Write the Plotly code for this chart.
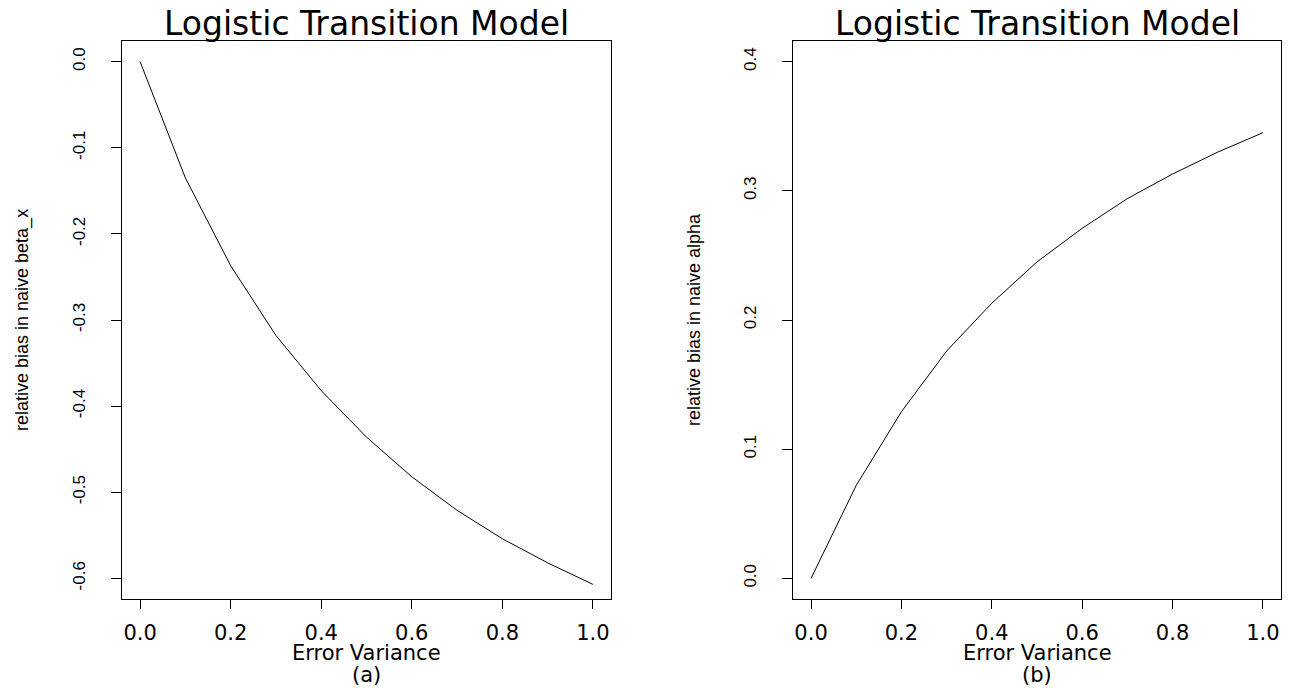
import plotly.graph_objects as go

error_variance = [0.0, 0.1, 0.2, 0.3, 0.4, 0.5, 0.6, 0.7, 0.8, 0.9, 1.0]
bias_beta_x = [0.0, -0.135, -0.237, -0.318, -0.382, -0.436, -0.482, -0.521, -0.554, -0.582, -0.607]
bias_alpha = [0.0, 0.072, 0.129, 0.176, 0.213, 0.245, 0.271, 0.294, 0.313, 0.330, 0.345]

x_tickvals = [0.0, 0.2, 0.4, 0.6, 0.8, 1.0]
x_ticktext = ["0.0", "0.2", "0.4", "0.6", "0.8", "1.0"]
y1_tickvals = [0.0, -0.1, -0.2, -0.3, -0.4, -0.5, -0.6]
y1_ticktext = ["0.0", "-0.1", "-0.2", "-0.3", "-0.4", "-0.5", "-0.6"]
y2_tickvals = [0.0, 0.1, 0.2, 0.3, 0.4]
y2_ticktext = ["0.0", "0.1", "0.2", "0.3", "0.4"]

title_text = "Logistic Transition Model"
x_title = "Error Variance"
y1_title = "relative bias in naive beta_x"
y2_title = "relative bias in naive alpha"
panel_labels = ["(a)", "(b)"]

W, H = 1292, 688
HFONT = "DejaVu Sans"
VFONT = "Liberation Sans"

fig = go.Figure()
fig.add_trace(go.Scatter(x=error_variance, y=bias_beta_x, mode="lines",
                         line=dict(color="black", width=1), xaxis="x", yaxis="y",
                         showlegend=False, hoverinfo="skip"))
fig.add_trace(go.Scatter(x=error_variance, y=bias_alpha, mode="lines",
                         line=dict(color="black", width=1), xaxis="x2", yaxis="y2",
                         showlegend=False, hoverinfo="skip"))

# panel boxes in window pixels
L1, R1 = 122, 611
L2, R2 = 793, 1281
TOP, BOT = 41, 599


def px(v):
    return v / W


def py(v):
    return 1 - v / H


common_x = dict(range=[-0.04, 1.04], showgrid=False, zeroline=False, showline=True,
                mirror=True, linecolor="black", linewidth=1, ticks="outside", ticklen=9,
                tickcolor="black", tickwidth=1, tickvals=x_tickvals, ticktext=x_ticktext,
                tickfont=dict(family=HFONT, size=21, color="black"), ticklabelstandoff=6)
common_y = dict(showgrid=False, zeroline=False, showline=True, mirror=True,
                linecolor="black", linewidth=1, ticks="outside", ticklen=10,
                tickcolor="black", tickwidth=1, tickangle=-90,
                tickfont=dict(family=VFONT, size=17, color="black"), ticklabelstandoff=19,
                domain=[py(BOT), py(TOP)])

fig.update_layout(
    width=W, height=H,
    margin=dict(l=0, r=0, t=0, b=0),
    paper_bgcolor="white", plot_bgcolor="white",
    xaxis=dict(domain=[px(L1), px(R1)], anchor="y", **common_x),
    xaxis2=dict(domain=[px(L2), px(R2)], anchor="y2", **common_x),
    yaxis=dict(range=[-0.624, 0.024], anchor="x", tickvals=y1_tickvals,
               ticktext=y1_ticktext, **common_y),
    yaxis2=dict(range=[-0.016, 0.416], anchor="x2", tickvals=y2_tickvals,
                ticktext=y2_ticktext, **common_y),
)

anns = []
for (L, R, ytitle, plabel) in [(L1, R1, y1_title, panel_labels[0]),
                               (L2, R2, y2_title, panel_labels[1])]:
    cx = (L + R) / 2
    anns.append(dict(text=title_text, x=px(cx), y=py(24), xref="paper", yref="paper",
                     xanchor="center", yanchor="middle", showarrow=False,
                     font=dict(family=HFONT, size=33, color="black")))
    anns.append(dict(text=x_title, x=px(cx), y=py(653), xref="paper", yref="paper",
                     xanchor="center", yanchor="middle", showarrow=False,
                     font=dict(family=HFONT, size=21, color="black")))
    anns.append(dict(text=plabel, x=px(cx), y=py(675), xref="paper", yref="paper",
                     xanchor="center", yanchor="middle", showarrow=False,
                     font=dict(family=HFONT, size=21, color="black")))
    anns.append(dict(text=ytitle, x=px(L - 99), y=py((TOP + BOT) / 2), xref="paper",
                     yref="paper", xanchor="center", yanchor="middle", showarrow=False,
                     textangle=-90, font=dict(family=VFONT, size=18, color="black")))
fig.update_layout(annotations=anns)

fig.write_html("out.html",
               config={"displayModeBar": False},
               post_script="document.body.style.margin='0px';"
                           "document.body.style.overflow='hidden';")
